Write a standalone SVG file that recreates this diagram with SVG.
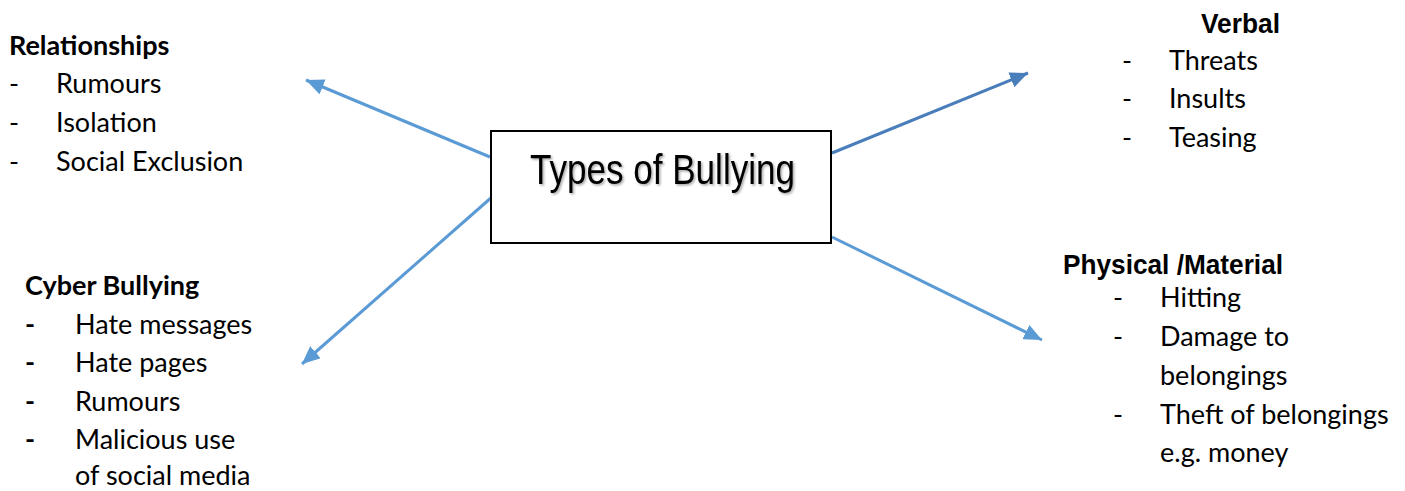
<svg xmlns="http://www.w3.org/2000/svg" width="1405" height="491" viewBox="0 0 1405 491">
<style>
.c{font-family:Lato,"Open Sans",sans-serif;font-size:27px;fill:#000}
.cb{font-family:Lato,"Open Sans",sans-serif;font-size:27px;font-weight:bold;fill:#000}
.a{font-family:"Liberation Sans",Arial,sans-serif;font-size:28px;font-weight:bold;fill:#000}
.t{font-family:"Liberation Sans",Arial,sans-serif;font-size:42px;fill:#000}
.ln{stroke:#5b9bd5;stroke-width:3;fill:none}
.ln2{stroke:#4a7ebb;stroke-width:3;fill:none}
</style>
<defs>
<marker id="ah" markerUnits="userSpaceOnUse" markerWidth="20" markerHeight="16" refX="18" refY="8" orient="auto">
<path d="M0,0 L18,8 L0,16 Z" fill="#5b9bd5"/>
</marker>
<marker id="ah2" markerUnits="userSpaceOnUse" markerWidth="20" markerHeight="16" refX="18" refY="8" orient="auto">
<path d="M0,0 L18,8 L0,16 Z" fill="#4a7ebb"/>
</marker>
<filter id="sh" x="-5%" y="-20%" width="110%" height="140%">
<feDropShadow dx="1.5" dy="1.5" stdDeviation="1" flood-color="#000" flood-opacity="0.35"/>
</filter>
</defs>
<rect width="1405" height="491" fill="#fff"/>
<g id="connectors">
<line class="ln" x1="490" y1="157" x2="306" y2="80" marker-end="url(#ah)"/>
<line class="ln" x1="492" y1="197" x2="302" y2="364" marker-end="url(#ah)"/>
<line class="ln2" x1="832" y1="153" x2="1028" y2="73" marker-end="url(#ah2)"/>
<line class="ln" x1="832" y1="237" x2="1042" y2="340" marker-end="url(#ah)"/>
</g>
<g id="center">
<rect x="491" y="131" width="340" height="112" fill="#fff" stroke="#000" stroke-width="2"/>
<text class="t" x="530" y="184" textLength="265" lengthAdjust="spacingAndGlyphs" filter="url(#sh)">Types of Bullying</text>
</g>
<g id="relationships">
<text class="cb" x="9" y="55">Relationships</text>
<text class="c" x="9" y="93">-</text><text class="c" x="56" y="93">Rumours</text>
<text class="c" x="9" y="132">-</text><text class="c" x="56" y="132">Isolation</text>
<text class="c" x="9" y="171">-</text><text class="c" x="56" y="171">Social Exclusion</text>
</g>
<g id="verbal">
<text class="a" x="1201" y="33" textLength="79" lengthAdjust="spacingAndGlyphs">Verbal</text>
<text class="c" x="1122" y="70">-</text><text class="c" x="1169" y="70">Threats</text>
<text class="c" x="1122" y="108">-</text><text class="c" x="1169" y="108">Insults</text>
<text class="c" x="1122" y="147">-</text><text class="c" x="1169" y="147">Teasing</text>
</g>
<g id="cyber">
<text class="cb" x="25" y="295">Cyber Bullying</text>
<text class="cb" x="25" y="334">-</text><text class="c" x="75" y="334">Hate messages</text>
<text class="cb" x="25" y="372">-</text><text class="c" x="75" y="372">Hate pages</text>
<text class="cb" x="25" y="411">-</text><text class="c" x="75" y="411">Rumours</text>
<text class="cb" x="25" y="449">-</text><text class="c" x="75" y="449">Malicious use</text>
<text class="c" x="75" y="485">of social media</text>
</g>
<g id="physical">
<text class="a" x="1063" y="274" textLength="220" lengthAdjust="spacingAndGlyphs">Physical /Material</text>
<text class="c" x="1113" y="307">-</text><text class="c" x="1160" y="307">Hitting</text>
<text class="c" x="1113" y="346">-</text><text class="c" x="1160" y="346">Damage to</text>
<text class="c" x="1160" y="385">belongings</text>
<text class="c" x="1113" y="424">-</text><text class="c" x="1160" y="424">Theft of belongings</text>
<text class="c" x="1160" y="462">e.g. money</text>
</g>
</svg>
